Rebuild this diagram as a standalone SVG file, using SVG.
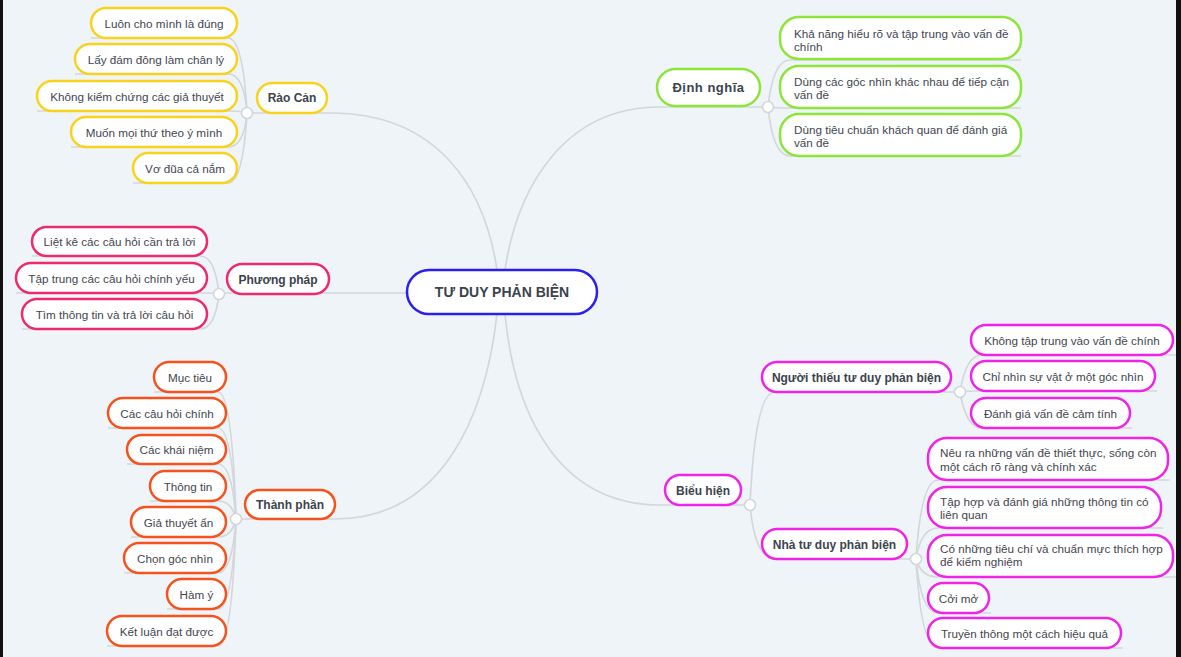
<svg xmlns="http://www.w3.org/2000/svg" width="1181" height="657" viewBox="0 0 1181 657">
<style>
.bg{fill:#eff4f8}
.edge{fill:#111}
.ln{fill:none;stroke:#d3d7db;stroke-width:1.7}
.jn{fill:#fff;stroke:#d3d7db;stroke-width:1.6}
.bx{fill:#fff;stroke-width:2.5}
.y{stroke:#f9d21c}
.g{stroke:#8de53a}
.p{stroke:#ee2a6e}
.o{stroke:#f6521d}
.m{stroke:#ef24e6}
.b{stroke:#2a1ff0}
.t{font-family:"Liberation Sans",Arial,sans-serif;font-size:11.7px;fill:#3f4650}
.c{text-anchor:middle}
.h{font-family:"Liberation Sans",Arial,sans-serif;font-size:12px;font-weight:bold;fill:#3b434d;text-anchor:middle}
</style>
<rect class="bg" x="0" y="0" width="1181" height="657"/>
<rect class="edge" x="0" y="0" width="3" height="657"/>
<rect class="edge" x="1176" y="0" width="5" height="657"/>

<g id="connectors">
<path class="ln" d="M499 292 L497 270 C485 190 440 113 330 113 H247"/>
<path class="ln" d="M503 292 L505 270 C517 190 562 107 660 107 H768"/>
<path class="ln" d="M499 292 L497 314 C485 420 440 519 335 519 H236"/>
<path class="ln" d="M503 292 L505 314 C515 420 562 505 660 505 H750"/>
<path class="ln" d="M420 293 H219"/>
<!-- Rao Can children -->
<path class="ln" d="M247 113 Q243 38 228 38 H91"/>
<path class="ln" d="M247 113 Q244 74 228 74 H75"/>
<path class="ln" d="M247 113 Q244 111 228 111 H37"/>
<path class="ln" d="M247 113 Q244 147 228 147 H71"/>
<path class="ln" d="M247 113 Q243 183 228 183 H133"/>
<!-- Dinh nghia children -->
<path class="ln" d="M768 107 Q773 60 790 60 H1021"/>
<path class="ln" d="M768 107 Q773 108 790 108 H1021"/>
<path class="ln" d="M768 107 Q773 156 790 156 H1021"/>
<!-- Phuong phap children -->
<path class="ln" d="M219 294 Q215 256 200 256 H32"/>
<path class="ln" d="M219 294 Q215 293 200 293 H16"/>
<path class="ln" d="M219 294 Q215 329 200 329 H22"/>
<!-- Thanh phan children -->
<path class="ln" d="M236 519 Q232 392 218 392 H154"/>
<path class="ln" d="M236 519 Q232 428 218 428 H108"/>
<path class="ln" d="M236 519 Q232 464 218 464 H127"/>
<path class="ln" d="M236 519 Q232 501 218 501 H150"/>
<path class="ln" d="M236 519 Q232 537 218 537 H131"/>
<path class="ln" d="M236 519 Q232 573 218 573 H124"/>
<path class="ln" d="M236 519 Q232 609 218 609 H167"/>
<path class="ln" d="M236 519 Q232 646 218 646 H107"/>
<!-- Bieu hien children -->
<path class="ln" d="M750 505 Q755 392 775 392 H960"/>
<path class="ln" d="M750 505 Q755 559 775 559 H916"/>
<!-- Nguoi thieu children -->
<path class="ln" d="M960 392 Q966 355 982 355 H1176"/>
<path class="ln" d="M960 392 Q966 391 982 391 H1157"/>
<path class="ln" d="M960 392 Q966 428 982 428 H1132"/>
<!-- Nha tu duy children -->
<path class="ln" d="M916 559 Q921 480 938 480 H1170"/>
<path class="ln" d="M916 559 Q921 528 938 528 H1163"/>
<path class="ln" d="M916 559 Q921 577 938 577 H1176"/>
<path class="ln" d="M916 559 Q921 613 938 613 H991"/>
<path class="ln" d="M916 559 Q921 648 938 648 H1123"/>
</g>

<g id="center">
<rect class="bx b" x="407" y="270" width="190" height="44" rx="22"/>
<text class="h" x="502" y="297" style="font-size:14px">TƯ DUY PHẢN BIỆN</text>
</g>

<g id="rao-can">
<rect class="bx y" x="257" y="83" width="70" height="30" rx="15"/>
<text class="h" x="292" y="102">Rào Cản</text>
<circle class="jn" cx="247" cy="113" r="5.5"/>
</g>
<g id="rc1"><rect class="bx y" x="91" y="8" width="146" height="30" rx="15"/><text class="t c" x="164" y="27.5">Luôn cho mình là đúng</text></g>
<g id="rc2"><rect class="bx y" x="75" y="44" width="162" height="30" rx="15"/><text class="t c" x="156" y="63.5">Lấy đám đông làm chân lý</text></g>
<g id="rc3"><rect class="bx y" x="37" y="81" width="200" height="30" rx="15"/><text class="t c" x="137" y="100.5">Không kiểm chứng các giả thuyết</text></g>
<g id="rc4"><rect class="bx y" x="71" y="117" width="166" height="30" rx="15"/><text class="t c" x="154" y="136.5">Muốn mọi thứ theo ý mình</text></g>
<g id="rc5"><rect class="bx y" x="133" y="153" width="104" height="30" rx="15"/><text class="t c" x="185" y="172.5">Vơ đũa cả nắm</text></g>

<g id="dinh-nghia">
<rect class="bx g" x="657" y="69" width="103" height="37" rx="18.5"/>
<text class="h" x="708.5" y="92" style="font-size:13px;letter-spacing:0.5px">Định nghĩa</text>
<circle class="jn" cx="768" cy="107" r="5.5"/>
</g>
<g id="dn1"><rect class="bx g" x="780" y="17" width="241" height="42" rx="19"/><text class="t" x="794" y="37.5">Khả năng hiểu rõ và tập trung vào vấn đề</text><text class="t" x="794" y="51">chính</text></g>
<g id="dn2"><rect class="bx g" x="780" y="66" width="241" height="42" rx="19"/><text class="t" x="794" y="85.5">Dùng các góc nhìn khác nhau để tiếp cận</text><text class="t" x="794" y="99">vấn đề</text></g>
<g id="dn3"><rect class="bx g" x="780" y="114" width="241" height="42" rx="19"/><text class="t" x="794" y="133.5">Dùng tiêu chuẩn khách quan để đánh giá</text><text class="t" x="794" y="147">vấn đề</text></g>

<g id="phuong-phap">
<rect class="bx p" x="227" y="264" width="102" height="30" rx="15"/>
<text class="h" x="278" y="283.5">Phương pháp</text>
<circle class="jn" cx="219" cy="294" r="5.5"/>
</g>
<g id="pp1"><rect class="bx p" x="32" y="227" width="175" height="29" rx="14.5"/><text class="t c" x="119.5" y="245.5">Liệt kê các câu hỏi cần trả lời</text></g>
<g id="pp2"><rect class="bx p" x="16" y="263" width="191" height="30" rx="15"/><text class="t c" x="111.5" y="282.5">Tập trung các câu hỏi chính yếu</text></g>
<g id="pp3"><rect class="bx p" x="22" y="299" width="185" height="30" rx="15"/><text class="t c" x="114.5" y="318.5">Tìm thông tin và trả lời câu hỏi</text></g>

<g id="thanh-phan">
<rect class="bx o" x="245" y="490" width="90" height="29" rx="14.5"/>
<text class="h" x="290" y="508.5">Thành phần</text>
<circle class="jn" cx="236" cy="519" r="5.5"/>
</g>
<g id="tp1"><rect class="bx o" x="154" y="362" width="72" height="30" rx="15"/><text class="t c" x="190" y="381.5">Mục tiêu</text></g>
<g id="tp2"><rect class="bx o" x="108" y="398" width="118" height="30" rx="15"/><text class="t c" x="167" y="417.5">Các câu hỏi chính</text></g>
<g id="tp3"><rect class="bx o" x="127" y="435" width="99" height="29" rx="14.5"/><text class="t c" x="176.5" y="453.5">Các khái niệm</text></g>
<g id="tp4"><rect class="bx o" x="150" y="471" width="76" height="30" rx="15"/><text class="t c" x="188" y="490.5">Thông tin</text></g>
<g id="tp5"><rect class="bx o" x="131" y="507" width="95" height="30" rx="15"/><text class="t c" x="178.5" y="526.5">Giả thuyết ẩn</text></g>
<g id="tp6"><rect class="bx o" x="124" y="543" width="102" height="30" rx="15"/><text class="t c" x="175" y="562.5">Chọn góc nhìn</text></g>
<g id="tp7"><rect class="bx o" x="167" y="579" width="59" height="30" rx="15"/><text class="t c" x="196.5" y="598.5">Hàm ý</text></g>
<g id="tp8"><rect class="bx o" x="107" y="616" width="119" height="30" rx="15"/><text class="t c" x="166.5" y="635.5">Kết luận đạt được</text></g>

<g id="bieu-hien">
<rect class="bx m" x="665" y="475" width="76" height="30" rx="15"/>
<text class="h" x="703" y="494.5">Biểu hiện</text>
<circle class="jn" cx="750" cy="505" r="5.5"/>
</g>
<g id="nguoi-thieu">
<rect class="bx m" x="762" y="362" width="189" height="30" rx="15"/>
<text class="h" x="856.5" y="381.5">Người thiếu tư duy phản biện</text>
<circle class="jn" cx="960" cy="392" r="5.5"/>
</g>
<g id="nt1"><rect class="bx m" x="971" y="325" width="202" height="30" rx="15"/><text class="t c" x="1072" y="344.5">Không tập trung vào vấn đề chính</text></g>
<g id="nt2"><rect class="bx m" x="971" y="361" width="184" height="30" rx="15"/><text class="t c" x="1063" y="380.5">Chỉ nhìn sự vật ở một góc nhìn</text></g>
<g id="nt3"><rect class="bx m" x="971" y="398" width="159" height="30" rx="15"/><text class="t c" x="1050.5" y="417.5">Đánh giá vấn đề cảm tính</text></g>

<g id="nha-tu-duy">
<rect class="bx m" x="762" y="529" width="145" height="30" rx="15"/>
<text class="h" x="834.5" y="548.5">Nhà tư duy phản biện</text>
<circle class="jn" cx="916" cy="559" r="5.5"/>
</g>
<g id="nd1"><rect class="bx m" x="928" y="438" width="240" height="42" rx="19"/><text class="t" x="940" y="457">Nêu ra những vấn đề thiết thực, sống còn</text><text class="t" x="940" y="470.5">một cách rõ ràng và chính xác</text></g>
<g id="nd2"><rect class="bx m" x="928" y="487" width="233" height="41" rx="19"/><text class="t" x="940" y="505.5">Tập hợp và đánh giá những thông tin có</text><text class="t" x="940" y="519">liên quan</text></g>
<g id="nd3"><rect class="bx m" x="928" y="535" width="245" height="42" rx="19"/><text class="t" x="940" y="552.5">Có những tiêu chí và chuẩn mực thích hợp</text><text class="t" x="940" y="566">để kiểm nghiệm</text></g>
<g id="nd4"><rect class="bx m" x="928" y="583" width="61" height="30" rx="15"/><text class="t c" x="958.5" y="602.5">Cởi mở</text></g>
<g id="nd5"><rect class="bx m" x="928" y="618" width="193" height="30" rx="15"/><text class="t c" x="1024.5" y="637.5">Truyền thông một cách hiệu quả</text></g>
</svg>
